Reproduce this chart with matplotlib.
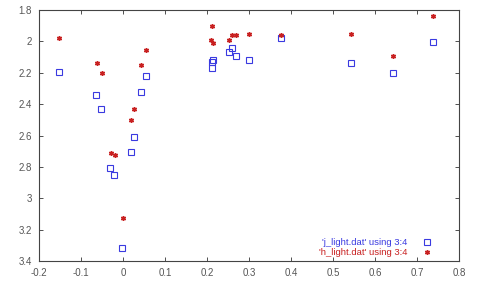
import numpy as np
import matplotlib
matplotlib.use("Agg")
import matplotlib.pyplot as plt

matplotlib.rcParams['font.family'] = 'Liberation Sans'

# 'j_light.dat' using 3:4
j_x = [-0.153, -0.065, -0.052, 0.044, 0.055, 0.025, 0.019, -0.031, -0.021, -0.002,
       0.211, 0.214, 0.212, 0.252, 0.260, 0.269, 0.299, 0.375, 0.542, 0.644, 0.737]
j_y = [2.193, 2.342, 2.433, 2.320, 2.223, 2.611, 2.703, 2.805, 2.852, 3.315,
       2.129, 2.121, 2.172, 2.070, 2.042, 2.091, 2.121, 1.981, 2.140, 2.202, 2.004]

# 'h_light.dat' using 3:4
h_x = [-0.153, -0.063, -0.049, 0.055, 0.044, 0.025, 0.018, -0.029, -0.018, -0.001,
       0.211, 0.210, 0.215, 0.252, 0.260, 0.268, 0.299, 0.375, 0.542, 0.644, 0.738]
h_y = [1.981, 2.140, 2.202, 2.053, 2.153, 2.433, 2.501, 2.714, 2.722, 3.124,
       1.900, 1.991, 2.008, 1.991, 1.959, 1.959, 1.951, 1.961, 1.951, 2.091, 1.840]

xticks = [-0.2, -0.1, 0, 0.1, 0.2, 0.3, 0.4, 0.5, 0.6, 0.7, 0.8]
xlabels = ['-0.2', '-0.1', '0', '0.1', '0.2', '0.3', '0.4', '0.5', '0.6', '0.7', '0.8']
yticks = [1.8, 2.0, 2.2, 2.4, 2.6, 2.8, 3.0, 3.2, 3.4]
ylabels = ['1.8', '2', '2.2', '2.4', '2.6', '2.8', '3', '3.2', '3.4']

blue = '#3a3ae0'
red = '#c82020'

fig = plt.figure(figsize=(4.79, 2.85), dpi=100, facecolor='w')
ax = fig.add_axes([39/479, 1-261/285, 420/479, 251/285])

ax.plot(j_x, j_y, linestyle='none', marker='s', markersize=3.8,
        markerfacecolor='none', markeredgecolor=blue, markeredgewidth=0.8,
        label="'j_light.dat' using 3:4")
ax.plot(h_x, h_y, linestyle='none', marker=(6, 2, 0), markersize=3.6,
        color=red, markeredgewidth=1.0,
        label="'h_light.dat' using 3:4")

ax.set_xlim(-0.2, 0.8)
ax.set_ylim(3.4, 1.8)
ax.set_xticks(xticks)
ax.set_xticklabels(xlabels)
ax.set_yticks(yticks)
ax.set_yticklabels(ylabels)
ax.tick_params(direction='in', length=3, width=0.6, labelsize=7,
               top=True, right=True, colors='#333333', labelcolor='#555555', pad=5)
for s in ax.spines.values():
    s.set_color('#444444')
    s.set_linewidth(0.8)

leg = ax.legend(loc='lower right', bbox_to_anchor=(0.935, 0.015), frameon=False,
                markerfirst=False, fontsize=6.8, handletextpad=1.6,
                labelspacing=0.15, handlelength=1.0, borderaxespad=0, borderpad=0)
for t, c in zip(leg.get_texts(), [blue, red]):
    t.set_color(c)

fig.savefig('out.png', dpi=100)
